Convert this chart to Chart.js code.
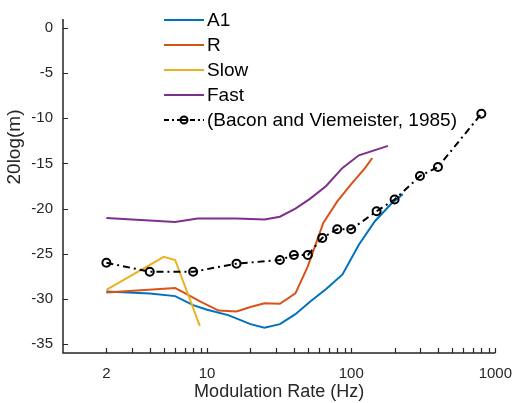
<!DOCTYPE html>
<html>
<head>
<meta charset="utf-8">
<script src="https://cdn.jsdelivr.net/npm/chart.js@4/dist/chart.umd.min.js"></script>
<style>
html,body{margin:0;padding:0;background:#fff;}
#wrap{width:524px;height:403px;position:relative;}
</style>
</head>
<body>
<div id="wrap"><canvas id="c" width="524" height="403"></canvas></div>
<script>
// ---- data ----
const a1X = [2, 4, 6, 8, 10, 14, 20, 25, 32, 41, 52, 67, 87, 113, 146, 189, 228];
const a1Y = [-29.2, -29.4, -29.7, -30.7, -31.2, -31.8, -32.8, -33.2, -32.8, -31.7, -30.3, -28.9, -27.3, -24.0, -21.4, -19.5, -18.4];

const rX = [2, 6, 6.7, 9, 12, 16, 20, 25, 32, 41, 50, 64, 80, 100, 125, 140];
const rY = [-29.3, -28.8, -29.2, -30.3, -31.3, -31.4, -30.9, -30.5, -30.55, -29.4, -26.4, -21.6, -19.2, -17.3, -15.5, -14.4];

const slowX = [2, 5, 6, 8.9];
const slowY = [-29.0, -25.35, -25.7, -33.0];

const fastX = [2, 6, 8.6, 16, 25, 32, 41, 52, 67, 87, 113, 180];
const fastY = [-21.05, -21.5, -21.1, -21.1, -21.2, -20.9, -20.0, -18.9, -17.5, -15.5, -14.1, -13.05];

const baconX = [2, 4, 8, 16, 32, 40, 50, 63, 80, 100, 150, 200, 300, 400, 800];
const baconY = [-26.0, -27.0, -27.0, -26.1, -25.7, -25.15, -25.15, -23.25, -22.3, -22.3, -20.3, -19.0, -16.4, -15.4, -9.5];

const seriesNames = ['A1', 'R', 'Slow', 'Fast', '(Bacon and Viemeister, 1985)'];
const xTickValues = [2,3,4,5,6,7,8,9,10,20,30,40,50,60,70,80,90,100,200,300,400,500,600,700,800,900,1000];
const xTickLabels = ['2', '10', '100', '1000'];
const yTickValues = [-35, -30, -25, -20, -15, -10, -5, 0];
const yTitle = '20log(m)';
const xTitle = 'Modulation Rate (Hz)';

function pts(xs, ys){ return xs.map((x,i)=>({x:x, y:ys[i]})); }

const FONT = "'Liberation Sans', Arial, sans-serif";
const TXT = '#262626';
const colors = ['#0072BD', '#D95319', '#EDB120', '#7E2F8E', '#000000'];

const axesPlugin = {
  id: 'axesPlugin',
  beforeDatasetsDraw(chart){
    const ctx = chart.ctx, a = chart.chartArea;
    const xs = chart.scales.x, ys = chart.scales.y;
    ctx.save();
    ctx.strokeStyle = TXT;
    ctx.lineWidth = 1.5;
    ctx.beginPath();
    ctx.moveTo(a.left, a.top); ctx.lineTo(a.left, a.bottom); ctx.lineTo(a.right, a.bottom);
    ctx.stroke();
    ctx.lineWidth = 1.2;
    ctx.beginPath();
    xTickValues.forEach(v=>{
      const p = Math.round(xs.getPixelForValue(v)) + 0.5;
      ctx.moveTo(p, a.bottom); ctx.lineTo(p, a.bottom - 5);
    });
    yTickValues.forEach(v=>{
      const p = Math.round(ys.getPixelForValue(v)) + 0.5;
      ctx.moveTo(a.left, p); ctx.lineTo(a.left + 5, p);
    });
    ctx.stroke();
    // y axis title
    ctx.translate(15, 147);
    ctx.rotate(-Math.PI/2);
    ctx.font = '19px ' + FONT;
    ctx.fillStyle = TXT;
    ctx.textAlign = 'center';
    ctx.textBaseline = 'middle';
    ctx.fillText(yTitle, 0, 0);
    ctx.restore();
  },
  afterDraw(chart){
    const ctx = chart.ctx;
    ctx.save();
    ctx.font = '19px ' + FONT;
    ctx.textBaseline = 'middle';
    chart.data.datasets.forEach((ds, i)=>{
      const y = 20 + 25*i;
      const x0 = 164, x1 = 204;
      ctx.strokeStyle = ds.borderColor;
      ctx.lineWidth = 2;
      if (ds.borderDash && ds.borderDash.length) ctx.setLineDash([5,3,2,3]); else ctx.setLineDash([]);
      ctx.beginPath(); ctx.moveTo(x0, y); ctx.lineTo(x1, y); ctx.stroke();
      ctx.setLineDash([]);
      if (ds.pointRadius > 0){
        ctx.fillStyle = '#fff';
        ctx.beginPath(); ctx.arc((x0+x1)/2, y, 3.5, 0, Math.PI*2); ctx.fill(); ctx.stroke();
        ctx.beginPath(); ctx.moveTo((x0+x1)/2-3.5, y); ctx.lineTo((x0+x1)/2+3.5, y); ctx.stroke();
      }
      ctx.fillStyle = '#000';
      ctx.fillText(seriesNames[i], 207, y + 1);
    });
    ctx.restore();
  }
};

const lineDs = (i, xs, ys, order) => ({
  label: seriesNames[i], data: pts(xs, ys), borderColor: colors[i], backgroundColor: colors[i],
  borderWidth: 2, pointRadius: 0, tension: 0, order: order
});

new Chart(document.getElementById('c'), {
  type: 'line',
  data: {
    datasets: [
      lineDs(0, a1X, a1Y, 5),
      lineDs(1, rX, rY, 4),
      lineDs(2, slowX, slowY, 3),
      lineDs(3, fastX, fastY, 2),
      {
        label: seriesNames[4], data: pts(baconX, baconY), borderColor: '#000', backgroundColor: 'rgba(0,0,0,0)',
        borderWidth: 2, borderDash: [7,4,2,4], pointRadius: 4, pointBorderWidth: 2,
        pointBorderColor: '#000', pointBackgroundColor: 'rgba(0,0,0,0)', tension: 0, order: 1
      }
    ]
  },
  options: {
    responsive: false, animation: false, devicePixelRatio: 1,
    layout: { padding: { top: 7, right: 17, left: 0, bottom: 0 } },
    plugins: { legend: { display: false }, tooltip: { enabled: false } },
    scales: {
      x: {
        type: 'logarithmic', min: 1, max: 1000,
        grid: { display: false, drawTicks: false }, border: { display: false },
        afterBuildTicks: (s) => { s.ticks = xTickValues.map(v=>({value:v})); },
        afterFit: (s) => { s.height = 50; },
        ticks: {
          autoSkip: false, maxRotation: 0, padding: 12,
          color: TXT, font: { family: FONT, size: 15 },
          callback: (v) => xTickLabels.includes(String(v)) ? String(v) : ''
        },
        title: { display: true, text: xTitle, color: TXT, font: { family: FONT, size: 18 }, padding: { top: 0, bottom: 0 } }
      },
      y: {
        type: 'linear', min: -36, max: 1,
        grid: { display: false, drawTicks: false }, border: { display: false },
        afterBuildTicks: (s) => { s.ticks = yTickValues.map(v=>({value:v})); },
        afterFit: (s) => { s.width = 63; },
        ticks: { padding: 10, color: TXT, font: { family: FONT, size: 15 } },
        title: { display: false }
      }
    }
  },
  plugins: [axesPlugin]
});
</script>
</body>
</html>
